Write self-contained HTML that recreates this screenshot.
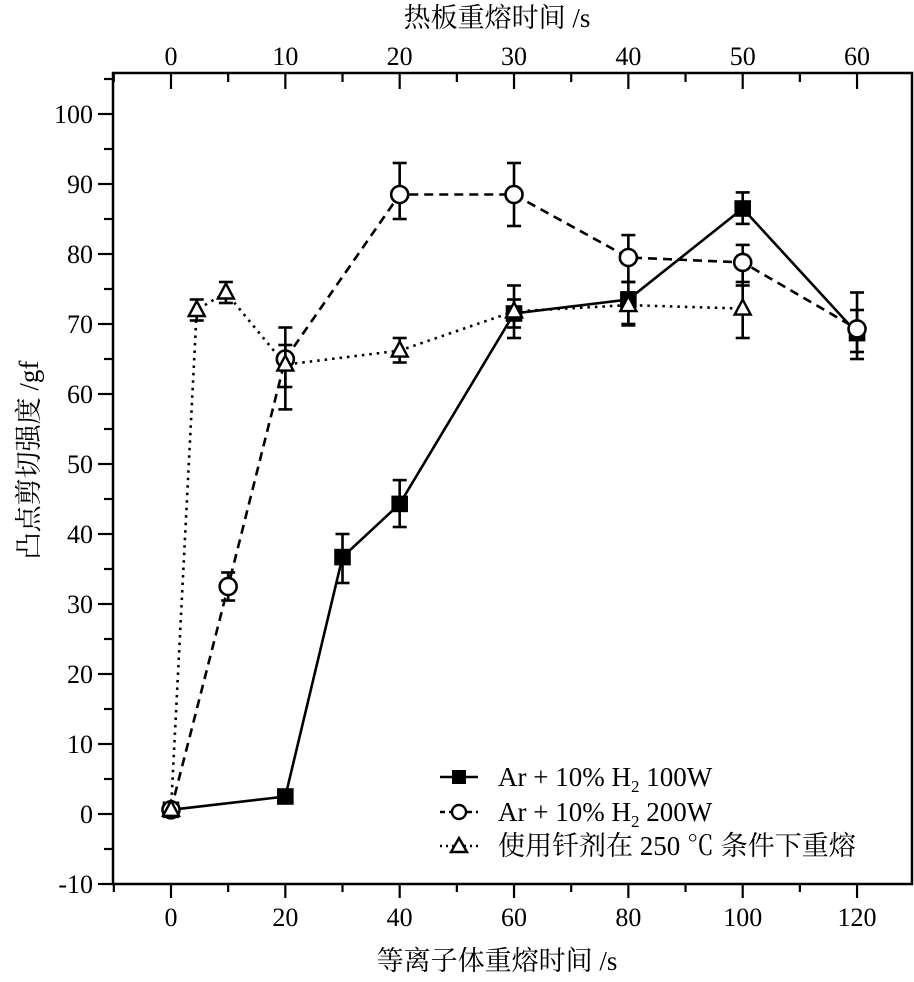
<!DOCTYPE html>
<html><head><meta charset="utf-8"><style>body{margin:0;background:#fff}</style></head><body>
<svg width="914" height="977" xmlns="http://www.w3.org/2000/svg" font-family="'Liberation Serif','Noto Serif CJK SC',serif" fill="#000">
<rect x="113" y="73" width="799" height="811" fill="none" stroke="#000" stroke-width="2.5"/>
<g stroke="#000" stroke-width="2.2" id="ticks"></g>
<g font-size="26" text-anchor="middle" id="labels"></g>
<text x="497" y="27" font-size="27" text-anchor="middle">热板重熔时间 /s</text>
<text x="497" y="970" font-size="27" text-anchor="middle">等离子体重熔时间 /s</text>
<text transform="translate(38,460) rotate(-90)" font-size="27" text-anchor="middle">凸点剪切强度 /gf</text>
<g id="data" fill="none" stroke="#000" stroke-width="2.6"></g>
<g font-size="27">
<line x1="440" y1="777" x2="478" y2="777" stroke="#000" stroke-width="2.6"/><rect x="452" y="770" width="14" height="14"/>
<text x="498" y="786">Ar + 10% H<tspan font-size="17" dy="6">2</tspan><tspan dy="-6"> 100W</tspan></text>
<line x1="440" y1="812" x2="478" y2="812" stroke="#000" stroke-width="2.6" stroke-dasharray="5,4"/><circle cx="459" cy="812" r="7" fill="#fff" stroke="#000" stroke-width="2.4"/>
<text x="498" y="821">Ar + 10% H<tspan font-size="17" dy="6">2</tspan><tspan dy="-6"> 200W</tspan></text>
<line x1="440" y1="846" x2="478" y2="846" stroke="#000" stroke-width="2.6" stroke-dasharray="2,4"/><path d="M459 838 L467 852 L451 852 Z" fill="#fff" stroke="#000" stroke-width="2.4"/>
<text x="498" y="855">使用钎剂在 250 ℃ 条件下重熔</text>
</g>
<script>
const NS="http://www.w3.org/2000/svg";
function el(p,t,a,txt){const e=document.createElementNS(NS,t);for(const k in a)e.setAttribute(k,a[k]);if(txt!=null)e.textContent=txt;document.getElementById(p).appendChild(e);return e;}
const X=b=>171+5.717*b, Y=v=>814-7*v;
for(let b=-10;b<=130;b+=10){const x=X(b);if(x<113||x>912)continue;const maj=b%20==0;el('ticks','line',{x1:x,y1:884,x2:x,y2:884+(maj?14:8)});if(maj)el('labels','text',{x:x,y:926},b);}
for(let t=-5;t<=65;t+=5){const x=X(2*t);if(x<113||x>912)continue;const maj=t%10==0;el('ticks','line',{x1:x,y1:73,x2:x,y2:73+(maj?16:9)});if(maj)el('labels','text',{x:x,y:65},t);}
for(let v=-10;v<=105;v+=5){const y=Y(v);if(y<73)continue;const maj=v%10==0;el('ticks','line',{x1:113,y1:y,x2:113-(maj?15:9),y2:y});if(maj)el('labels','text',{x:93,y:y+9,'text-anchor':'end'},v);}
const S=[
 {d:'',pts:[[0,0.6],[20,2.5,2,3],[30,36.7,33,40],[40,44.3,41,47.7],[60,71.5,68,75.5],[80,73.5,70,76],[100,86.5,84.3,88.8],[120,68.7,65,72]],m:'sq'},
 {d:'9,6',pts:[[0,0.6],[10,32.5,30.5,34.5],[20,65,61,69.5],[40,88.5,85,93],[60,88.5,84,93],[80,79.5,76,82.7],[100,78.8,75.5,81.3],[120,69.3,66,74.5]],m:'ci'},
 {d:'2.5,5',pts:[[0,0.6],[4.5,72,70.5,73.5],[9.6,74.5,73,76],[20,64.2,57.8,67],[40,66.2,64.5,68],[60,71.8,69.5,73.5],[80,72.7,69.8,74.5],[100,72.2,68,76]],m:'tr'}];
for(const s of S){el('data','polyline',{points:s.pts.map(p=>X(p[0])+','+Y(p[1])).join(' '),'stroke-dasharray':s.d||'none'});}
for(const s of S){for(const p of s.pts){const x=X(p[0]);if(p.length>2){el('data','line',{x1:x,y1:Y(p[2]),x2:x,y2:Y(p[3])});el('data','line',{x1:x-7,y1:Y(p[2]),x2:x+7,y2:Y(p[2])});el('data','line',{x1:x-7,y1:Y(p[3]),x2:x+7,y2:Y(p[3])});}
const y=Y(p[1]);
if(s.m=='sq')el('data','rect',{x:x-7,y:y-7,width:14,height:14,fill:'#000'});
else if(s.m=='ci')el('data','circle',{cx:x,cy:y,r:8.5,fill:'#fff'});
else el('data','path',{d:`M${x} ${y-9} L${x+8} ${y+6} L${x-8} ${y+6} Z`,fill:'#fff','stroke-width':2.4});}}
</script>
</svg>
</body></html>
